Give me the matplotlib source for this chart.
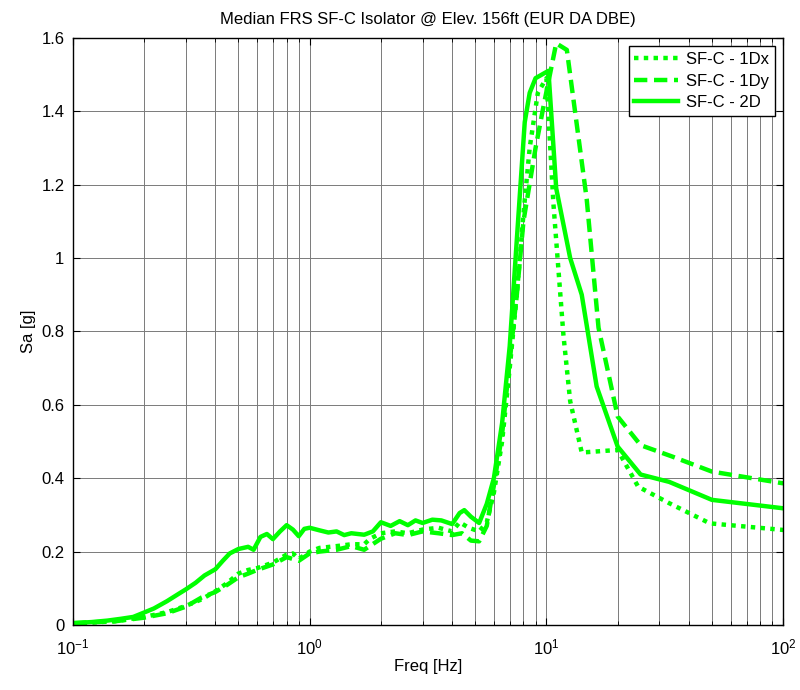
import matplotlib
matplotlib.use("Agg")
import matplotlib.pyplot as plt
from matplotlib.ticker import LogLocator, NullFormatter

plt.rcParams['font.family'] = ['Liberation Sans', 'DejaVu Sans']

f_2d = [0.1, 0.12, 0.14, 0.16, 0.18, 0.2, 0.22, 0.25, 0.28, 0.3, 0.33, 0.36, 0.4, 0.43,
        0.46, 0.5, 0.55, 0.58, 0.62, 0.66, 0.7, 0.75, 0.8, 0.85, 0.9, 0.95, 1.0, 1.1, 1.2,
        1.3, 1.4, 1.5, 1.7, 1.85, 2.0, 2.2, 2.4, 2.6, 2.8, 3.0, 3.3, 3.6, 4.0, 4.3, 4.5,
        4.8, 5.2, 5.6, 6.0, 6.5, 7.0, 7.5, 8.1, 8.5, 9.0, 10.2, 11.0, 12.6, 14.1, 16.3,
        20, 25, 33, 50, 100]
sa_2d = [0.005, 0.008, 0.012, 0.017, 0.022, 0.034, 0.045, 0.065, 0.085, 0.097, 0.115,
         0.135, 0.152, 0.175, 0.195, 0.207, 0.213, 0.205, 0.24, 0.248, 0.234, 0.255, 0.272,
         0.26, 0.242, 0.262, 0.265, 0.258, 0.252, 0.255, 0.245, 0.25, 0.246, 0.255, 0.28,
         0.27, 0.283, 0.272, 0.285, 0.278, 0.287, 0.285, 0.275, 0.305, 0.313, 0.295, 0.278,
         0.33, 0.40, 0.55, 0.76, 1.05, 1.37, 1.45, 1.49, 1.51, 1.19, 1.0, 0.9, 0.65,
         0.486, 0.41, 0.39, 0.341, 0.318]

f_1dx = [0.1, 0.15, 0.2, 0.25, 0.3, 0.35, 0.4, 0.45, 0.5, 0.55, 0.6, 0.7, 0.8, 0.85, 0.9,
         1.0, 1.1, 1.3, 1.5, 1.7, 1.8, 2.0, 2.3, 2.6, 3.0, 3.5, 4.0, 4.3, 4.7, 5.2, 5.6,
         6.0, 6.5, 7.0, 7.5, 8.0, 8.5, 9.2, 10.0, 10.7, 11.8, 12.6, 14.1, 20, 24.4, 33, 49, 100]
sa_1dx = [0.004, 0.01, 0.022, 0.035, 0.052, 0.07, 0.092, 0.115, 0.14, 0.15, 0.155, 0.17,
          0.192, 0.195, 0.18, 0.2, 0.21, 0.215, 0.22, 0.22, 0.235, 0.25, 0.255, 0.25, 0.26,
          0.265, 0.255, 0.28, 0.265, 0.255, 0.28, 0.36, 0.5, 0.70, 0.9, 1.12, 1.3, 1.45,
          1.49, 1.15, 0.79, 0.61, 0.47, 0.477, 0.377, 0.332, 0.277, 0.259]

f_1dy = [0.1, 0.15, 0.2, 0.25, 0.3, 0.35, 0.4, 0.45, 0.5, 0.55, 0.6, 0.7, 0.8, 0.9, 1.0,
         1.1, 1.3, 1.5, 1.7, 2.0, 2.3, 2.6, 3.0, 3.5, 4.0, 4.4, 4.8, 5.2, 5.6, 6.0, 6.5,
         7.0, 7.5, 8.0, 9.0, 9.7, 10.2, 11.0, 12.2, 14.8, 16.6, 20, 25, 34, 50, 100]
sa_1dy = [0.005, 0.01, 0.02, 0.032, 0.05, 0.075, 0.09, 0.11, 0.13, 0.14, 0.15, 0.165,
          0.185, 0.175, 0.195, 0.2, 0.205, 0.215, 0.205, 0.235, 0.25, 0.245, 0.255, 0.25,
          0.245, 0.25, 0.23, 0.228, 0.27, 0.38, 0.52, 0.72, 0.9, 1.1, 1.3, 1.41, 1.48,
          1.585, 1.567, 1.16, 0.81, 0.568, 0.49, 0.459, 0.418, 0.386]

labels = ['SF-C - 1Dx', 'SF-C - 1Dy', 'SF-C - 2D']
title = 'Median FRS SF-C Isolator @ Elev. 156ft (EUR DA DBE)'
green = '#00ff00'

fig = plt.figure(figsize=(8.0, 6.9), dpi=100)
ax = fig.add_axes([0.091, 0.0942, 0.888, 0.851])

ax.plot(f_1dx, sa_1dx, color=green, lw=3.2, linestyle=(0, (1, 1.2)), label=labels[0])
ax.plot(f_1dy, sa_1dy, color=green, lw=3.2, linestyle=(0, (3, 1.5)), label=labels[1])
ax.plot(f_2d, sa_2d, color=green, lw=3.2, linestyle='-', label=labels[2])

ax.set_xscale('log')
ax.set_xlim(0.1, 100)
ax.set_ylim(0, 1.6)
ax.set_yticks([0, 0.2, 0.4, 0.6, 0.8, 1.0, 1.2, 1.4, 1.6])
ax.set_yticklabels(['0', '0.2', '0.4', '0.6', '0.8', '1', '1.2', '1.4', '1.6'])
ax.xaxis.set_major_locator(LogLocator(base=10, numticks=10))
ax.xaxis.set_minor_locator(LogLocator(base=10, subs=range(2, 10), numticks=20))
ax.xaxis.set_minor_formatter(NullFormatter())

ax.grid(True, which='both', color='#7a7a7a', lw=0.7)
ax.set_axisbelow(True)
ax.tick_params(which='both', direction='in', top=True, right=True, labelsize=12)
ax.tick_params(which='major', length=5)
ax.tick_params(which='minor', length=3)
ax.tick_params(axis='x', which='major', pad=9)
ax.tick_params(axis='y', which='major', pad=6)
for s in ax.spines.values():
    s.set_linewidth(1.0)

ax.set_xlabel('Freq [Hz]', fontsize=12, labelpad=1)
ax.set_ylabel('Sa [g]', fontsize=12)
ax.set_title(title, fontsize=12, pad=10)

leg = ax.legend(loc='upper right', fontsize=12, frameon=True, fancybox=False,
                edgecolor='black', framealpha=1, handlelength=2.6, borderpad=0.35,
                labelspacing=0.4, handletextpad=0.5, borderaxespad=0.5)
leg.get_frame().set_linewidth(1.0)

fig.savefig('out.png', dpi=100)
